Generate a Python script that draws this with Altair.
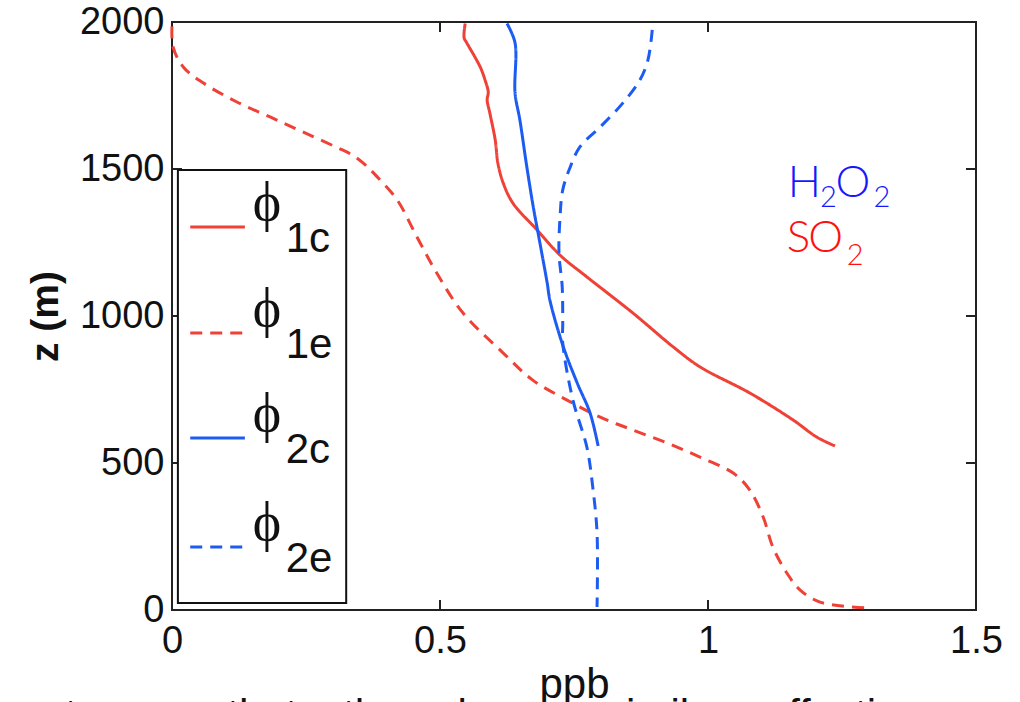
import altair as alt
import pandas as pd

# ---------------- data ----------------
series_names = ["phi1c", "phi1e", "phi2c", "phi2e"]
series_labels = ["1c", "1e", "2c", "2e"]

phi1c_x = [0.547, 0.545, 0.550, 0.575, 0.584, 0.590, 0.588, 0.593, 0.603, 0.608, 0.618,
           0.636, 0.681, 0.724, 0.774, 0.860, 0.935, 0.985, 1.078, 1.159, 1.203, 1.237]
phi1c_z = [1995, 1946, 1929, 1847, 1803, 1762, 1735, 1690, 1599, 1520, 1452,
           1384, 1293, 1207, 1133, 1010, 895, 827, 738, 646, 588, 558]

phi1e_x = [0.000, 0.002, 0.021, 0.058, 0.121, 0.183, 0.244, 0.308, 0.336, 0.358, 0.382, 0.420,
           0.457, 0.494, 0.543, 0.618, 0.673, 0.737, 0.799, 0.860, 0.924, 0.985, 1.047,
           1.078, 1.103, 1.121, 1.147, 1.172, 1.209, 1.297]
phi1e_z = [1985, 1915, 1847, 1793, 1728, 1677, 1626, 1573, 1548, 1518, 1475, 1395,
           1269, 1146, 1010, 874, 782, 714, 656, 612, 568, 520, 466,
           408, 316, 214, 126, 68, 27, 7]

phi2c_x = [0.625, 0.640, 0.640, 0.649, 0.662, 0.674, 0.683, 0.700, 0.705, 0.729, 0.756, 0.780, 0.795]
phi2c_z = [1995, 1929, 1759, 1667, 1507, 1371, 1282, 1112, 1054, 901, 772, 670, 558]

phi2e_x = [0.896, 0.888, 0.873, 0.841, 0.799, 0.761, 0.743, 0.729, 0.724, 0.722, 0.728,
           0.729, 0.729, 0.748, 0.774, 0.785, 0.793, 0.793]
phi2e_z = [1973, 1871, 1803, 1724, 1643, 1575, 1507, 1429, 1337, 1214, 1099,
           976, 908, 714, 554, 418, 262, 10]

x_tick_values = [0, 0.5, 1, 1.5]
y_tick_values = [0, 500, 1000, 1500, 2000]
x_inner_ticks = [0.5, 1.0]
y_inner_ticks = [500, 1000, 1500]

# ---------------- styles ----------------
RED = "#ef4136"
BLUE = "#1d5cf2"
W, H = 804, 588
X_MAX, Z_MAX = 1.5, 2000
px_x = X_MAX / W       # data units per pixel
px_z = Z_MAX / H

xscale = alt.Scale(domain=[0, X_MAX], nice=False, zero=False)
yscale = alt.Scale(domain=[0, Z_MAX], nice=False, zero=False)
color_scale = alt.Scale(domain=series_names, range=[RED, RED, BLUE, BLUE])
dash_scale = alt.Scale(domain=series_names, range=[[1, 0], [12, 8], [1, 0], [12, 8]])

rows = []
for name, xs, zs in zip(series_names, [phi1c_x, phi1e_x, phi2c_x, phi2e_x],
                        [phi1c_z, phi1e_z, phi2c_z, phi2e_z]):
    for i, (x, z) in enumerate(zip(xs, zs)):
        rows.append({"series": name, "x": x, "z": z, "i": i})
lines_df = pd.DataFrame(rows)

x_axis = alt.Axis(values=x_tick_values, format="~g", title="ppb", ticks=False, domain=False,
                  grid=False, labelFlush=False, labelOverlap=False, labelPadding=12,
                  labelFontSize=38, titleFontSize=42, titleFontWeight="normal", titlePadding=4,
                  labelFont="Liberation Sans", titleFont="Liberation Sans",
                  labelColor="#111", titleColor="#111")
y_axis = alt.Axis(values=y_tick_values, format="d", title="z (m)", ticks=False, domain=False,
                  grid=False, labelFlush=False, labelOverlap=False, labelPadding=8,
                  labelFontSize=38, titleFontSize=39, titleFontWeight="bold", titlePadding=14,
                  labelFont="Liberation Sans", titleFont="Liberation Sans",
                  labelColor="#111", titleColor="#111")


def X(field):
    return alt.X(field, type="quantitative", scale=xscale, axis=x_axis)


def Y(field):
    return alt.Y(field, type="quantitative", scale=yscale, axis=y_axis)


lines = alt.Chart(lines_df).mark_line(strokeWidth=3, interpolate="catmull-rom").encode(
    x=X("x"), y=Y("z"),
    color=alt.Color("series:N", scale=color_scale, legend=None),
    strokeDash=alt.StrokeDash("series:N", scale=dash_scale, legend=None),
    order="i:Q",
    detail="series:N",
)

# inward frame ticks (MATLAB style)
tick_rows = []
for v in x_inner_ticks:
    tick_rows.append({"x": v, "x2": v, "z": 0, "z2": 10 * px_z})
    tick_rows.append({"x": v, "x2": v, "z": Z_MAX, "z2": Z_MAX - 10 * px_z})
for v in y_inner_ticks:
    tick_rows.append({"x": 0, "x2": 10 * px_x, "z": v, "z2": v})
    tick_rows.append({"x": X_MAX, "x2": X_MAX - 10 * px_x, "z": v, "z2": v})
ticks = alt.Chart(pd.DataFrame(tick_rows)).mark_rule(color="#222", strokeWidth=2).encode(
    x=X("x"), x2="x2:Q", y=Y("z"), y2="z2:Q",
)

# legend box drawn inside the plot
leg_box_df = pd.DataFrame([{"x": 0.011, "x2": 0.325, "z": 24, "z2": 1497}])
leg_box = alt.Chart(leg_box_df).mark_rect(fill="white", stroke="#111", strokeWidth=2).encode(
    x=X("x"), x2="x2:Q", y=Y("z"), y2="z2:Q",
)
leg_z = [1303, 942, 585, 214]
leg_df = pd.DataFrame({"series": series_names, "lab": series_labels, "z": leg_z,
                       "x0": [0.034] * 4, "x1": [0.136] * 4,
                       "xp": [0.177] * 4, "xs": [0.212] * 4, "phi": ["\u03d5"] * 4})
leg_lines = alt.Chart(leg_df).mark_rule(strokeWidth=3).encode(
    x=X("x0"), x2="x1:Q", y=Y("z"),
    color=alt.Color("series:N", scale=color_scale, legend=None),
    strokeDash=alt.StrokeDash("series:N", scale=dash_scale, legend=None),
)
leg_phi = alt.Chart(leg_df).mark_text(font="Liberation Serif", fontSize=54, align="center",
                                      baseline="alphabetic", dy=-7, color="#111").encode(
    x=X("xp"), y=Y("z"), text="phi:N",
)
leg_sub = alt.Chart(leg_df).mark_text(font="Liberation Sans", fontSize=42, align="left",
                                      baseline="alphabetic", dy=25, color="#111").encode(
    x=X("xs"), y=Y("z"), text="lab:N",
)

# species annotations (H2O2 in blue, SO2 in red) with subscripts
ann_text = ["H", "2", "O", "2", "S", "O", "2"]
ann_x = [1.149, 1.209, 1.238, 1.309, 1.147, 1.187, 1.259]
ann_z = [1405, 1371, 1405, 1371, 1218, 1218, 1173]
ann_size = [44, 29, 44, 29, 44, 44, 29]
ann_color = ["#1717ff", "#1717ff", "#1717ff", "#1717ff", "#ff1010", "#ff1010", "#ff1010"]
ann_df = pd.DataFrame({"t": ann_text, "x": ann_x, "z": ann_z, "s": ann_size, "c": ann_color})
ann = alt.Chart(ann_df).mark_text(font="Lato", fontWeight=300, align="left",
                                  baseline="alphabetic").encode(
    x=X("x"), y=Y("z"), text="t:N",
    size=alt.Size("s:Q", scale=None),
    color=alt.Color("c:N", scale=None),
)

# clipped line of the surrounding document text at the bottom edge (only its tops show)
doc_words = ["ent", "as seen", "that", "the", "role", "as", "similar", "effective"]
doc_x = [-0.287, -0.144, 0.103, 0.319, 0.463, 0.593, 0.808, 1.106]
doc_df = pd.DataFrame({"t": doc_words, "x": doc_x, "z": [-405] * len(doc_words)})
doc = alt.Chart(doc_df).mark_text(font="Liberation Sans", fontSize=42, align="left",
                                  baseline="alphabetic", color="#111").encode(
    x=X("x"), y=Y("z"), text="t:N",
)

chart = alt.layer(lines, ticks, leg_box, leg_lines, leg_phi, leg_sub, ann, doc).properties(
    width=W, height=H,
    autosize=alt.AutoSizeParams(type="none"),
    padding={"left": 172, "top": 22, "right": 44, "bottom": 92},
    background="white",
).configure_view(stroke="#222", strokeWidth=2)

chart.save("out.html", embed_options={"renderer": "svg", "actions": False})
